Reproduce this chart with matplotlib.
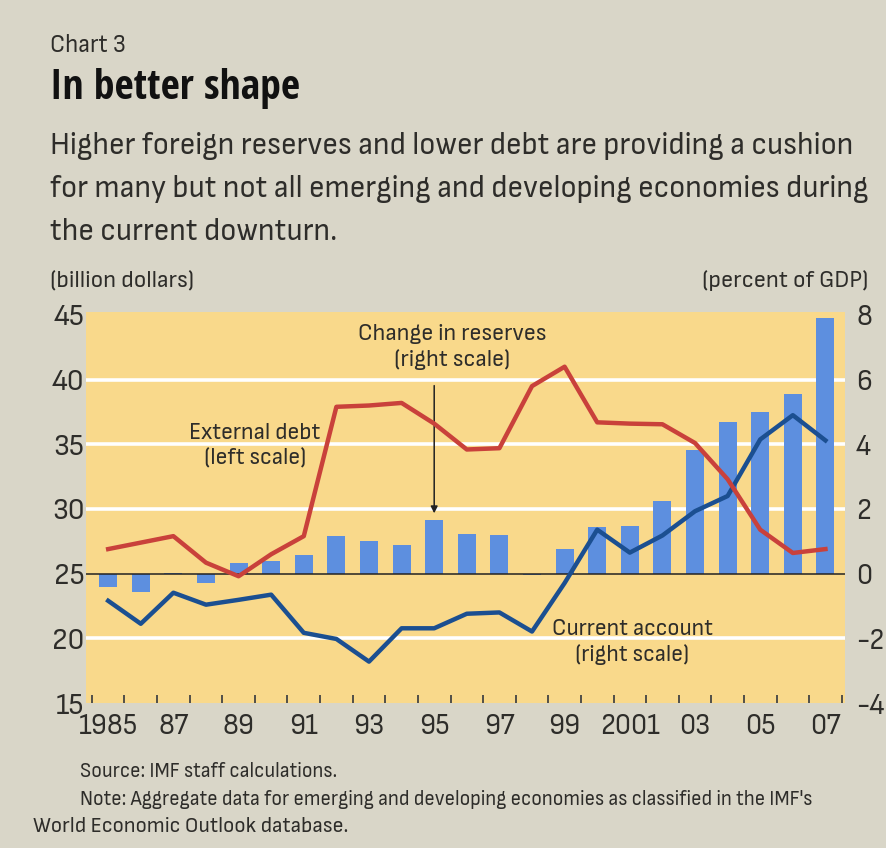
import matplotlib.pyplot as plt
from matplotlib import font_manager
from matplotlib.font_manager import FontProperties

# look for a narrow sans font, the original uses a condensed face
def is_narrow(f):
    nm = f.name.lower()
    return 'narrow' in nm or 'condensed' in nm or f.stretch in ('condensed', 'semi-condensed', 'narrow')

def wnum(w):
    if isinstance(w, int):
        return w
    return {'normal': 400, 'regular': 400, 'bold': 700}.get(str(w).lower(), 400)

regular, bold = None, None
for f in font_manager.fontManager.ttflist:
    if not is_narrow(f) or f.style != 'normal':
        continue
    if wnum(f.weight) == 400 and (regular is None or 'sans' in f.name.lower()):
        regular = f
    if wnum(f.weight) == 700 and (bold is None or 'sans' in f.name.lower()):
        bold = f

if regular is not None:
    plt.rcParams['font.family'] = [regular.name, 'DejaVu Sans']
    plt.rcParams['font.stretch'] = regular.stretch
    k = 1.0
else:
    plt.rcParams['font.family'] = ['Liberation Sans', 'DejaVu Sans']
    k = 0.85
title_font = FontProperties(fname=bold.fname) if bold is not None else FontProperties(weight='bold')

years = list(range(1985, 2008))
# external debt, billion dollars (left scale)
external_debt = [26.9, 27.4, 27.9, 25.85, 24.8, 26.5, 27.9, 37.9, 38.0, 38.2, 36.6, 34.6,
                 34.7, 39.5, 41.0, 36.7, 36.6, 36.55, 35.1, 32.3, 28.4, 26.6, 26.9]
# change in reserves, percent of GDP (right scale)
reserves_change = [-0.40, -0.56, 0.03, -0.28, 0.34, 0.40, 0.59, 1.15, 1.02, 0.90, 1.67, 1.24,
                   1.18, -0.03, 0.77, 1.45, 1.46, 2.26, 3.82, 4.69, 5.00, 5.55, 7.90]
# current account, percent of GDP (right scale)
current_account = [-0.84, -1.55, -0.59, -0.96, -0.81, -0.65, -1.83, -2.02, -2.72, -1.69, -1.69, -1.24,
                   -1.20, -1.79, -0.29, 1.36, 0.65, 1.18, 1.93, 2.40, 4.15, 4.90, 4.12]

left_ticks = [15, 20, 25, 30, 35, 40, 45]
right_ticks = [-4, -2, 0, 2, 4, 6, 8]
label_years = list(range(1985, 2008, 2))
year_labels = ['1985', '87', '89', '91', '93', '95', '97', '99', '2001', '03', '05', '07']

subtitle = ['Higher foreign reserves and lower debt are providing a cushion',
            'for many but not all emerging and developing economies during',
            'the current downturn.']

bg = '#d9d6c8'
txt = '#2e2d2a'

fig = plt.figure(figsize=(8.86, 8.48), dpi=100, facecolor=bg)
ax2 = fig.add_axes([86 / 886, 145 / 848, 759 / 886, 391 / 848])
ax1 = ax2.twinx()
ax1.set_zorder(ax2.get_zorder() + 1)
ax1.patch.set_visible(False)
ax2.set_facecolor('#f9d98b')

# grid and zero line
for v in [-2, 2, 4, 6]:
    ax2.axhline(v, color='white', lw=2.6, zorder=0)
ax2.bar(years, reserves_change, width=0.55, color='#5d8fdf', zorder=2)
ax2.axhline(0, color='#222222', lw=1.1, zorder=3)
ax2.plot(years, current_account, color='#1b4f91', lw=3.2, zorder=4)
ax1.plot(years, external_debt, color='#c9413b', lw=3.2, zorder=5)

ax2.set_xlim(1984.32, 2007.6)
ax2.set_ylim(-4, 8.09)
ax1.set_ylim(15, 45.23)

# left scale labels drawn on the left, right scale on the right
ax1.yaxis.tick_left()
ax2.yaxis.tick_right()
ax1.set_yticks(left_ticks)
ax1.set_yticklabels([str(t) for t in left_ticks])
ax2.set_yticks(right_ticks)
ax2.set_yticklabels([str(t) for t in right_ticks])
ax1.tick_params(axis='y', length=0, pad=1, labelsize=22 * k, labelcolor=txt)
ax2.tick_params(axis='y', length=0, pad=8, labelsize=21 * k, labelcolor=txt)

ax2.set_xticks([y - 0.5 for y in years] + [2007.5])
ax2.set_xticklabels([])
ax2.tick_params(axis='x', which='major', direction='in', length=6, width=1.3, color='#444444')
ax2.set_xticks(label_years, minor=True)
ax2.set_xticklabels(year_labels, minor=True)
ax2.tick_params(axis='x', which='minor', length=0, pad=7, labelsize=21 * k, labelcolor=txt)
ax1.tick_params(axis='x', length=0)

for a in (ax1, ax2):
    for s in a.spines.values():
        s.set_visible(False)

# annotations
ax2.annotate('', xy=(1995, 1.78), xytext=(1995, 5.9),
             arrowprops=dict(arrowstyle='-|>', color='#222222', lw=1.1, mutation_scale=10), zorder=6)
ax2.text(1995.55, 7.02, 'Change in reserves\n(right scale)', ha='center', va='center',
         fontsize=17.5 * k, color=txt, linespacing=1.3, zorder=6)
ax1.text(1989.5, 34.9, 'External debt\n(left scale)', ha='center', va='center',
         fontsize=17.3 * k, color=txt, linespacing=1.3, zorder=6)
ax2.text(2001.07, -2.11, 'Current account\n(right scale)', ha='center', va='center',
         fontsize=17.2 * k, color=txt, linespacing=1.3, zorder=6)

# headings
fig.text(50 / 886, 1 - 52 / 848, 'Chart 3', fontsize=18 * k, color=txt, va='baseline')
fig.text(50 / 886, 1 - 99 / 848, 'In better shape', fontproperties=title_font, fontsize=30 * k,
         color='#111111', va='baseline')
for i, line in enumerate(subtitle):
    fig.text(50 / 886, 1 - (154 + 43 * i) / 848, line, fontsize=22.8 * k, color=txt, va='baseline')
fig.text(50 / 886, 1 - 287 / 848, '(billion dollars)', fontsize=17.7 * k, color=txt, va='baseline')
fig.text(868 / 886, 1 - 287 / 848, '(percent of GDP)', fontsize=17.7 * k, color=txt, va='baseline', ha='right')

fig.text(80 / 886, 1 - 777 / 848, 'Source: IMF staff calculations.', fontsize=15 * k, color=txt, va='baseline')
fig.text(80 / 886, 1 - 805 / 848,
         "Note: Aggregate data for emerging and developing economies as classified in the IMF's",
         fontsize=15 * k, color=txt, va='baseline')
fig.text(33 / 886, 1 - 832 / 848, 'World Economic Outlook database.', fontsize=16 * k, color=txt, va='baseline')

fig.savefig('out.png', dpi=100, facecolor=bg)
